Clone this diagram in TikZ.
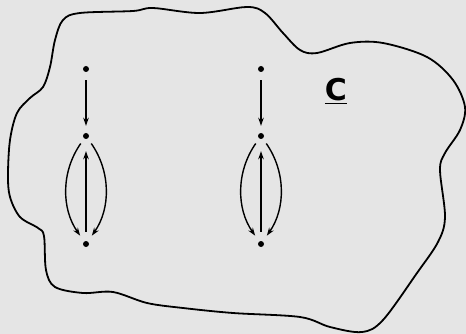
\documentclass[tikz,border=0pt]{standalone}
\usepackage{fontspec}
\setmainfont{DejaVu Sans}
\usetikzlibrary{arrows.meta}

\tikzset{
    dot/.style={circle, fill=black, inner sep=0pt, minimum size=6pt},
    arr/.style={-{Stealth[length=8pt,width=5.5pt]}, line width=1.4pt},
}

\begin{document}
\begin{tikzpicture}[x=1pt, y=-1pt]
    \fill[black!10] (0,0) rectangle (466,334);
    \useasboundingbox (0,0) rectangle (466,334);
    % the region C
    \draw[line width=1.8pt] plot[smooth cycle, tension=0.55] coordinates {
        (80,13) (133,11) (153,8) (200,13) (247,7) (265,13) (283,33) (300,50)
        (317,53) (350,43) (383,43) (427,57) (453,80) (465,107) (460,130)
        (445,153) (440,170) (445,217) (438,242) (417,273) (383,320) (362,332)
        (330,327) (300,317) (233,313) (183,308) (147,303) (113,292) (83,293)
        (55,287) (46,270) (44,236) (38,228) (20,217) (10,197) (8,175)
        (10,140) (17,113) (30,98) (43,87) (50,67) (55,40) (63,20)};
    \node at (336,91) {\fontsize{30}{36}\selectfont\underline{\textbf{C}}};
    % left component
    \node[dot] (a1) at (86,69)  {};
    \node[dot] (a2) at (86,136) {};
    \node[dot] (a3) at (86,244) {};
    \draw[arr, shorten <=8pt, shorten >=7pt] (a1) -- (a2);
    \draw[arr, shorten <=9pt, shorten >=12pt] (a3) -- (a2);
    \draw[arr, shorten <=6pt, shorten >=7pt] (a2) to[bend right=35] (a3);
    \draw[arr, shorten <=6pt, shorten >=7pt] (a2) to[bend left=35] (a3);
    % right component
    \node[dot] (b1) at (261,69)  {};
    \node[dot] (b2) at (261,136) {};
    \node[dot] (b3) at (261,244) {};
    \draw[arr, shorten <=8pt, shorten >=7pt] (b1) -- (b2);
    \draw[arr, shorten <=9pt, shorten >=12pt] (b3) -- (b2);
    \draw[arr, shorten <=6pt, shorten >=7pt] (b2) to[bend right=35] (b3);
    \draw[arr, shorten <=6pt, shorten >=7pt] (b2) to[bend left=35] (b3);
\end{tikzpicture}
\end{document}
